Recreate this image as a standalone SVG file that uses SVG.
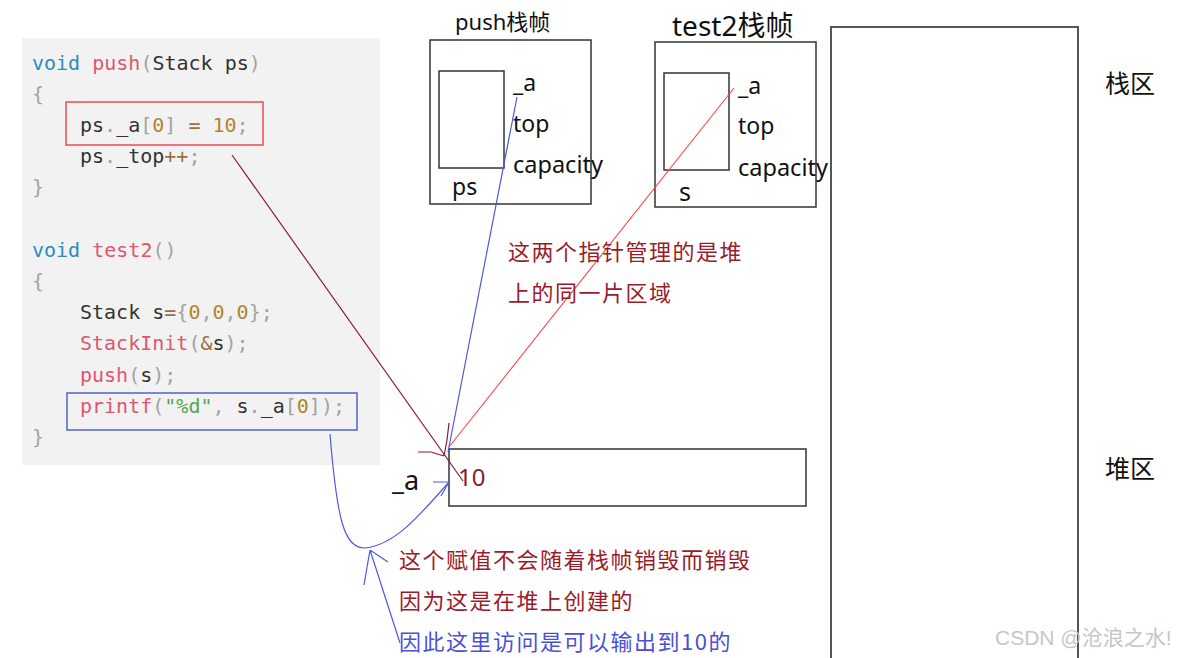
<svg xmlns="http://www.w3.org/2000/svg" width="1179" height="658" viewBox="0 0 1179 658">
<style>
.code{font-family:"DejaVu Sans Mono",monospace;font-size:20px;fill:#333}
.kw{fill:#2b8cbf}.fn{fill:#e0566f}.p{fill:#a3a3a3}.n{fill:#b08530}.op{fill:#9a7042}.str{fill:#55a653}
.lbl{font-family:"Noto Sans","Noto Sans CJK SC",sans-serif;fill:#111}
.cn{font-family:"Noto Sans CJK SC","Noto Sans",sans-serif}
.box{fill:none;stroke:#333;stroke-width:1.5}
.dr{fill:none;stroke:#8b1a2b;stroke-width:1.2}
.bl{fill:none;stroke:#4d5ae0;stroke-width:1.2}
.rd{fill:none;stroke:#ff4545;stroke-width:1.1}
</style>
<rect width="1179" height="658" fill="#fff"/>
<g id="code">
<rect x="22" y="38" width="358" height="427" fill="#f2f2f2"/>
<text class="code" x="32" y="70"><tspan class="kw">void</tspan> <tspan class="fn">push</tspan><tspan class="p">(</tspan>Stack ps<tspan class="p">)</tspan></text>
<text class="code" x="32" y="101"><tspan class="p">{</tspan></text>
<text class="code" x="80" y="132">ps<tspan class="p">.</tspan>_a<tspan class="p">[</tspan><tspan class="n">0</tspan><tspan class="p">]</tspan> <tspan class="op">=</tspan> <tspan class="n">10</tspan><tspan class="p">;</tspan></text>
<text class="code" x="80" y="163">ps<tspan class="p">.</tspan>_top<tspan class="op">++</tspan><tspan class="p">;</tspan></text>
<text class="code" x="32" y="194"><tspan class="p">}</tspan></text>
<text class="code" x="32" y="257"><tspan class="kw">void</tspan> <tspan class="fn">test2</tspan><tspan class="p">()</tspan></text>
<text class="code" x="32" y="288"><tspan class="p">{</tspan></text>
<text class="code" x="80" y="319">Stack s<tspan class="op">=</tspan><tspan class="p">{</tspan><tspan class="n">0</tspan><tspan class="p">,</tspan><tspan class="n">0</tspan><tspan class="p">,</tspan><tspan class="n">0</tspan><tspan class="p">};</tspan></text>
<text class="code" x="80" y="350"><tspan class="fn">StackInit</tspan><tspan class="p">(</tspan><tspan class="op">&amp;</tspan>s<tspan class="p">);</tspan></text>
<text class="code" x="80" y="382"><tspan class="fn">push</tspan><tspan class="p">(</tspan>s<tspan class="p">);</tspan></text>
<text class="code" x="80" y="413"><tspan class="fn">printf</tspan><tspan class="p">(</tspan><tspan class="str">"%d"</tspan><tspan class="p">,</tspan> s<tspan class="p">.</tspan>_a<tspan class="p">[</tspan><tspan class="n">0</tspan><tspan class="p">]);</tspan></text>
<text class="code" x="32" y="444"><tspan class="p">}</tspan></text>
<rect x="66" y="102" width="197" height="43" fill="none" stroke="#f04a55" stroke-width="1.5"/>
<rect x="67" y="393" width="290" height="37" fill="none" stroke="#5560d0" stroke-width="1.5"/>
</g>
<g id="push-frame">
<text class="lbl" x="455" y="30" font-size="22">push栈帧</text>
<rect class="box" x="430" y="40" width="161" height="164"/>
<rect class="box" x="439" y="71" width="65" height="97"/>
<text class="lbl" x="513" y="91" font-size="23">_a</text>
<text class="lbl" x="513" y="132" font-size="23">top</text>
<text class="lbl" x="513" y="173" font-size="23.5">capacity</text>
<text class="lbl" x="452" y="195" font-size="23">ps</text>
</g>
<g id="test2-frame">
<text class="lbl" x="672" y="36" font-size="28">test2栈帧</text>
<rect class="box" x="655" y="42" width="161" height="165"/>
<rect class="box" x="664" y="73" width="65" height="97"/>
<text class="lbl" x="738" y="94" font-size="23">_a</text>
<text class="lbl" x="738" y="134" font-size="23">top</text>
<text class="lbl" x="738" y="176" font-size="23.5">capacity</text>
<text class="lbl" x="679" y="201" font-size="25">s</text>
</g>
<g id="memory">
<rect x="831" y="27" width="247" height="640" fill="none" stroke="#555" stroke-width="2"/>
<text class="lbl cn" x="1105" y="93" font-size="25">栈区</text>
<text class="lbl cn" x="1105" y="478" font-size="25">堆区</text>
</g>
<g id="heap-block">
<rect class="box" x="449" y="449" width="357" height="57"/>
<text class="lbl" x="458" y="486" font-size="24" style="fill:#8b1a2b">10</text>
<text class="lbl" x="392" y="490" font-size="27">_a</text>
</g>
<g id="connectors">
<path class="dr" d="M232,155 L463,481"/>
<path class="dr" d="M418,452 L431,452 L444,456 M449,423 L447,440 L444,456"/>
<path class="bl" d="M517,97 L448,452"/>
<path class="rd" d="M734,88 L449,447"/>
<path class="bl" d="M330,434 C337,520 344,548 365,548 C395,545 420,515 449,482"/>
<path class="bl" d="M433,482 L449,482 M441,496 L449,482"/>
<path class="bl" d="M400,643 L370,550 M370,550 L388,562 M370,550 L364,585"/>
</g>
<g id="notes">
<text class="cn" x="508" y="260" font-size="22" letter-spacing="1.5" fill="#9a1c2a">这两个指针管理的是堆</text>
<text class="cn" x="508" y="301" font-size="22" letter-spacing="1.5" fill="#9a1c2a">上的同一片区域</text>
<text class="cn" x="399" y="568" font-size="22" letter-spacing="1.5" fill="#9a1c2a">这个赋值不会随着栈帧销毁而销毁</text>
<text class="cn" x="399" y="609" font-size="22" letter-spacing="1.5" fill="#9a1c2a">因为这是在堆上创建的</text>
<text class="cn" x="399" y="650" font-size="22" letter-spacing="1.5" fill="#4b50d8">因此这里访问是可以输出到10的</text>
</g>
<text font-family="Liberation Sans,'Noto Sans CJK SC',sans-serif" x="995" y="645" font-size="21" fill="#c6c6c6">CSDN @沧浪之水!</text>
</svg>
